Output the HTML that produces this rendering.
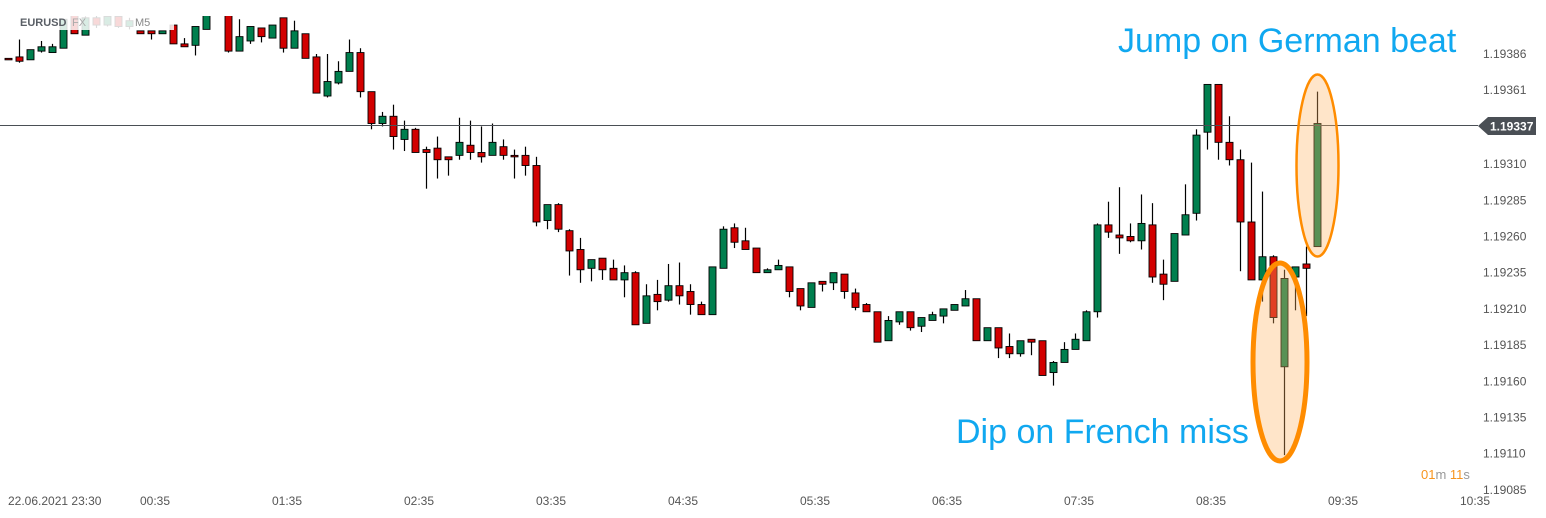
<!DOCTYPE html>
<html><head><meta charset="utf-8"><style>
html,body{margin:0;padding:0;background:#fff;width:1546px;height:518px;overflow:hidden;font-family:"Liberation Sans",sans-serif}
svg{display:block}
</style></head><body>
<svg id="chart" width="1546" height="518" viewBox="0 0 1546 518" xmlns="http://www.w3.org/2000/svg">
<defs><clipPath id="plot"><rect x="0" y="16" width="1478" height="480"/></clipPath></defs>
<g id="candles" clip-path="url(#plot)"></g>
<line x1="0" y1="125.5" x2="1478" y2="125.5" stroke="#4a4f55" stroke-width="1"/>
<g id="yaxis"></g>
<g id="xaxis"></g>
<g>
<polygon points="1478,126 1488,117 1536,117 1536,135 1488,135" fill="#4a4f55"/>
<text x="1490" y="130.5" font-size="12" font-weight="bold" fill="#fff">1.19337</text>
</g>
<g>
<rect x="14" y="12" width="160" height="18" fill="#fff" opacity="0.85"/>
<text x="20" y="26" font-size="11" font-weight="bold" fill="#5a5f66">EURUSD</text>
<text x="72" y="26" font-size="11" fill="#aaa">FX</text>
<text x="135" y="26" font-size="11" fill="#888">M5</text>
</g>
<g>
<ellipse cx="1317.5" cy="165.5" rx="21" ry="91" fill="rgba(255,180,100,0.35)" stroke="#ff8c00" stroke-width="2.5"/>
</g>
<g>
<ellipse cx="1280" cy="362" rx="27" ry="99" fill="rgba(255,180,100,0.35)" stroke="#ff8c00" stroke-width="5"/>
</g>
<text x="1118" y="52" font-size="34" fill="#10a8f0">Jump on German beat</text>
<text x="956" y="443" font-size="34" fill="#10a8f0">Dip on French miss</text>
<g>
<text x="1421" y="479" font-size="13"><tspan fill="#f7941d">01</tspan><tspan fill="#999">m </tspan><tspan fill="#f7941d">11</tspan><tspan fill="#999">s</tspan></text>
</g>
</svg>
<script>
// prices in units of 1e-5 above 1.19000
const opens =[383,384,382,388,387,390,413,399,411,406,412,405,402,402,400,406,393,392,403,418,414,388,395,404,397,411,390,400,384,357,366,374,387,360,338,343,327,334,320,321,315,316,323,318,316,322,316,316,309,271,282,264,251,238,245,238,230,235,200,220,216,226,222,213,206,238,266,257,252,235,237,239,224,211,229,228,234,221,213,208,188,201,208,198,202,205,209,212,217,188,197,184,179,189,188,166,173,182,188,208,268,261,260,257,268,234,229,261,276,332,365,325,313,270,230,246,170,232,241,253];
const highs =[383,396,389,395,393,410,414,412,413,415,414,411,402,402,402,406,397,405,414,424,416,410,405,404,406,411,409,400,386,386,381,396,390,360,346,351,340,335,322,329,315,342,340,336,338,327,320,322,315,282,283,265,259,244,245,244,240,236,227,230,241,242,227,215,239,267,269,266,252,238,244,239,224,228,229,235,234,224,214,208,205,208,208,204,208,210,213,223,217,197,197,193,188,189,188,174,187,193,209,269,284,294,269,289,283,244,262,296,334,365,365,343,320,311,291,247,237,239,253,360];
const lows  =[382,380,382,387,387,390,400,399,404,405,404,403,400,396,400,393,391,385,403,416,387,388,393,394,397,387,390,383,359,356,365,374,356,334,336,320,319,318,293,300,302,313,313,311,316,313,300,302,267,265,263,233,228,229,230,230,218,199,200,209,215,213,206,206,206,238,252,251,235,235,237,218,209,211,222,223,217,209,208,187,188,199,195,194,202,200,209,212,188,188,176,176,177,178,164,157,173,182,188,204,259,248,256,251,228,216,229,261,271,320,313,309,236,230,215,200,109,209,205,253];
const closes=[382,381,389,391,391,410,400,411,406,412,405,409,400,400,402,393,391,405,414,422,388,398,405,398,406,390,402,383,359,367,374,387,360,338,343,329,334,318,318,313,313,325,318,315,325,316,315,309,270,282,265,250,237,244,237,230,235,199,219,215,226,219,213,206,239,265,256,251,235,237,240,222,212,228,227,235,222,211,208,187,202,208,197,204,206,210,213,217,188,197,183,179,188,187,164,173,182,189,208,268,263,259,257,269,232,227,262,275,330,365,325,313,270,230,246,204,231,239,238,338];
const yTickValues=[386,361,310,285,260,235,210,185,160,135,110,85];
const xTickLabels=["00:35","01:35","02:35","03:35","04:35","05:35","06:35","07:35","08:35","09:35","10:35"];

const NS="http://www.w3.org/2000/svg";
function yScale(p){return (423.3-p)/0.6906;}
function xScale(i){return 8+11*i;}
function tickX(k){return 155+132*k;}
function mk(tag,attrs,parent){const e=document.createElementNS(NS,tag);for(const k in attrs)e.setAttribute(k,attrs[k]);parent.appendChild(e);return e;}

const cg=document.getElementById('candles');
for(let i=0;i<opens.length;i++){
  const x=xScale(i), o=opens[i], c=closes[i];
  const up=c>=o;
  const g=mk('g',{},cg);
  
  
  const w=mk('line',{x1:x+0.5,x2:x+0.5,y1:yScale(highs[i]),y2:yScale(lows[i]),stroke:'#000','stroke-width':1.2},g);
  
  
  const top=yScale(Math.max(o,c)), bot=yScale(Math.min(o,c));
  const b=mk('rect',{x:x-3,y:top,width:7,height:Math.max(bot-top,1.5),fill:up?'#007f4e':'#d20000',stroke:'#000','stroke-width':0.9},g);
  
  
}
const ya=document.getElementById('yaxis');
yTickValues.forEach(v=>{
  const t=mk('text',{x:1483,y:yScale(v)+4,'font-size':12,fill:'#555'},ya);
  
  
  t.textContent=(1.19+v/100000).toFixed(5);
});
const xa=document.getElementById('xaxis');
const d=mk('text',{x:8,y:505,'font-size':12,fill:'#555'},xa);


d.textContent='22.06.2021  23:30';
d.setAttribute('xml:space','preserve');
xTickLabels.forEach((s,k)=>{
  const t=mk('text',{x:tickX(k),y:505,'font-size':12,fill:'#555','text-anchor':'middle'},xa);
  
  
  t.textContent=s;
});
</script>
</body></html>
